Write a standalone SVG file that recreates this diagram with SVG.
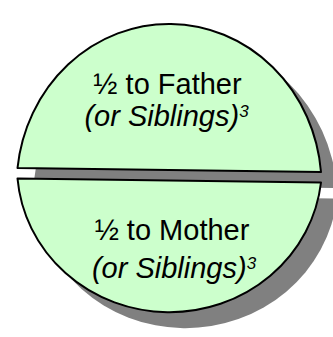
<svg xmlns="http://www.w3.org/2000/svg" xmlns:xlink="http://www.w3.org/1999/xlink" width="333" height="337" viewBox="0 0 333 337">
  <style>
    .piece { fill: #CCFFCC; stroke: #000000; stroke-width: 2; stroke-linejoin: round; }
    .shadow { fill: #808080; stroke: none; }
    .main { font-family: "Liberation Sans", Arial, sans-serif; font-size: 29px; fill: #000000; text-anchor: middle; }
    .sub { font-style: italic; }
    .sup { font-size: 17px; }
  </style>
  <defs>
    <path id="topShape" d="M17.5,168 A152.5,162 0 0 1 321,172 Z"/>
    <path id="botShape" d="M17.5,178.5 L321,182.5 A152.5,146 0 0 1 17.5,178.5 Z"/>
  </defs>
  <g id="shadows">
    <use xlink:href="#topShape" class="shadow" transform="translate(16,16)"/>
    <use xlink:href="#botShape" class="shadow" transform="translate(16,16)"/>
  </g>
  <g id="father">
    <use xlink:href="#topShape" class="piece"/>
    <text class="main" x="167.5" y="94">½ to Father</text>
    <text class="main sub" x="166.5" y="126">(or Siblings)<tspan class="sup" dy="-9">3</tspan></text>
  </g>
  <g id="mother">
    <use xlink:href="#botShape" class="piece"/>
    <text class="main" x="172" y="240">½ to Mother</text>
    <text class="main sub" x="174" y="278">(or Siblings)<tspan class="sup" dy="-9">3</tspan></text>
  </g>
</svg>
